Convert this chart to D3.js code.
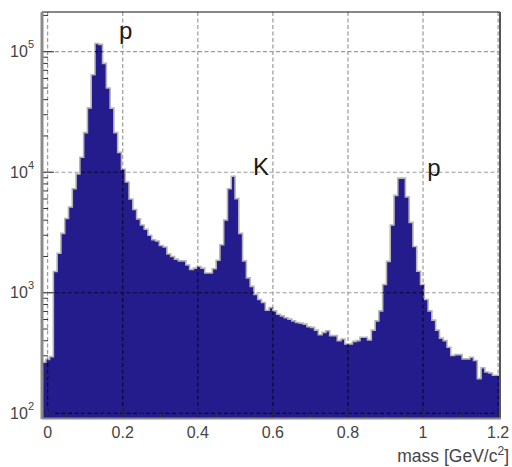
<!DOCTYPE html>
<html>
<head>
<meta charset="utf-8">
<script src="https://cdn.jsdelivr.net/npm/d3@7"></script>
<style>
  body { margin: 0; background: #fff; }
  svg { display: block; }
  text { font-family: "Liberation Sans", Arial, Helvetica, sans-serif; }
</style>
</head>
<body>
<div id="chart"></div>
<script>
// histogram: 121 bins between xRange[0] and xRange[1]
var xRange = [-0.015, 1.205];
var yRange = [91.4, 213500];
var counts = [
  265, 280, 295, 1500, 2130, 3110, 4130, 5150, 7290, 9680,
  13300, 21300, 34200, 64300, 117000, 115000, 80000, 50000, 34000, 21300,
  14600, 10600, 8300, 6000, 4900, 4100, 3650, 3360, 3000, 2750,
  2690, 2470, 2400, 2100, 2000, 1900, 1840, 1840, 1700, 1560,
  1600, 1650, 1600, 1460, 1460, 1580, 1860, 2500, 4010, 7300,
  9270, 6040, 3110, 1840, 1330, 1130, 970, 880, 830, 716,
  754, 707, 663, 643, 620, 604, 585, 567, 560, 549,
  522, 516, 490, 449, 469, 484, 441, 441, 401, 413,
  376, 376, 395, 401, 427, 427, 406, 490, 585, 707,
  1170, 1820, 3650, 6430, 8930, 8930, 6240, 3840, 2420, 1510,
  1170, 880, 707, 593, 490, 420, 401, 353, 302, 307,
  307, 283, 283, 292, 274, 194, 239, 220, 216, 207,
  207
];
var xTicks = [0, 0.2, 0.4, 0.6, 0.8, 1, 1.2];
var xTickLabels = ["0", "0.2", "0.4", "0.6", "0.8", "1", "1.2"];
var yTicks = [1e2, 1e3, 1e4, 1e5];
var yTickExp = ["2", "3", "4", "5"];
var peakNames = ["p", "K", "p"];
var peakX = [0.19, 0.547, 1.011];
var peakY = [127000, 9500, 9300];

var W = 512, H = 467;
var FRAME = {left: 42, right: 500, top: 12, bottom: 418};
var FILL = "#241b8c";
var GRID_DASH = "4,2.5";

var svg = d3.select("#chart").append("svg")
  .attr("width", W).attr("height", H);

var x = d3.scaleLinear().domain(xRange).range([FRAME.left, FRAME.right]);
var y = d3.scaleLog().domain(yRange).range([FRAME.bottom, FRAME.top]);

var binW = (xRange[1] - xRange[0]) / counts.length;

// step outline points
var pts = [];
counts.forEach(function(c, i) {
  var lo = xRange[0] + i * binW;
  pts.push([lo, c]);
  pts.push([lo + binW, c]);
});

var area = d3.area()
  .x(function(d) { return x(d[0]); })
  .y0(FRAME.bottom)
  .y1(function(d) { return y(d[1]); });
var line = d3.line()
  .x(function(d) { return x(d[0]); })
  .y(function(d) { return y(d[1]); });

// grid, drawn twice: grey on white, dark on the fill
function drawGrid(g, colour) {
  g.selectAll("line.gx").data(xTicks).enter().append("line")
    .attr("x1", function(d) { return x(d); })
    .attr("x2", function(d) { return x(d); })
    .attr("y1", FRAME.top).attr("y2", FRAME.bottom)
    .attr("stroke", colour).attr("stroke-width", 1.2)
    .attr("stroke-dasharray", GRID_DASH);
  g.selectAll("line.gy").data(yTicks).enter().append("line")
    .attr("x1", FRAME.left).attr("x2", FRAME.right)
    .attr("y1", function(d) { return y(d); })
    .attr("y2", function(d) { return y(d); })
    .attr("stroke", colour).attr("stroke-width", 1.2)
    .attr("stroke-dasharray", GRID_DASH);
}
drawGrid(svg.append("g"), "#9a9a9a");

svg.append("path").attr("d", area(pts)).attr("fill", FILL);
svg.append("path").attr("d", line(pts))
  .attr("fill", "none").attr("stroke", "#b4b4b4").attr("stroke-width", 1.6);

svg.append("clipPath").attr("id", "histClip")
  .append("path").attr("d", area(pts));
drawGrid(svg.append("g").attr("clip-path", "url(#histClip)"), "#0a0a30");

// ticks
var tk = svg.append("g").attr("stroke", "#333").attr("stroke-width", 1);
var xMinor = d3.range(0, 1.2001, 0.05);
tk.selectAll("line.xt").data(xMinor).enter().append("line")
  .attr("x1", function(d) { return x(d); })
  .attr("x2", function(d) { return x(d); })
  .attr("y1", FRAME.bottom)
  .attr("y2", function(d, i) { return FRAME.bottom - (i % 4 === 0 ? 9 : 5); });
var yMinor = [];
yTicks.forEach(function(dec) {
  for (var m = 1; m <= 9; m++) {
    if (dec * m <= yRange[1]) yMinor.push({v: dec * m, major: m === 1});
  }
});
tk.selectAll("line.yt").data(yMinor).enter().append("line")
  .attr("x1", FRAME.left)
  .attr("x2", function(d) { return FRAME.left + (d.major ? 12 : 6); })
  .attr("y1", function(d) { return y(d.v); })
  .attr("y2", function(d) { return y(d.v); });

// frame
svg.append("line").attr("x1", FRAME.left).attr("x2", FRAME.right)
  .attr("y1", FRAME.top).attr("y2", FRAME.top)
  .attr("stroke", "#111").attr("stroke-width", 1);
svg.append("line").attr("x1", FRAME.right).attr("x2", FRAME.right)
  .attr("y1", FRAME.top).attr("y2", FRAME.bottom)
  .attr("stroke", "#555").attr("stroke-width", 2);
svg.append("line").attr("x1", FRAME.left).attr("x2", FRAME.left)
  .attr("y1", FRAME.top).attr("y2", FRAME.bottom + 1)
  .attr("stroke", "#8a8a8a").attr("stroke-width", 3);
svg.append("line").attr("x1", FRAME.left).attr("x2", FRAME.right + 1)
  .attr("y1", FRAME.bottom + 0.5).attr("y2", FRAME.bottom + 0.5)
  .attr("stroke", "#8a8a8a").attr("stroke-width", 2);

// x tick labels
svg.selectAll("text.xl").data(xTicks).enter().append("text")
  .attr("x", function(d) { return x(d); })
  .attr("y", 438)
  .attr("text-anchor", "middle")
  .attr("font-size", 16)
  .attr("fill", "#444")
  .text(function(d, i) { return xTickLabels[i]; });

// y tick labels 10^n
var yl = svg.selectAll("text.yl").data(yTicks).enter().append("text")
  .attr("x", FRAME.left - 8)
  .attr("y", function(d) { return y(d) + 5.5; })
  .attr("text-anchor", "end")
  .attr("font-size", 16)
  .attr("fill", "#444");
yl.append("tspan").text("10");
yl.append("tspan").attr("dy", -9).attr("font-size", 11)
  .text(function(d, i) { return yTickExp[i]; });

// axis title
var title = svg.append("text")
  .attr("x", 509).attr("y", 462)
  .attr("text-anchor", "end")
  .attr("font-size", 17.5)
  .attr("fill", "#444");
title.append("tspan").text("mass [GeV/c");
title.append("tspan").attr("dy", -7).attr("font-size", 12).text("2");
title.append("tspan").attr("dy", 7).text("]");

// peak labels
svg.selectAll("text.pk").data(peakNames).enter().append("text")
  .attr("x", function(d, i) { return x(peakX[i]); })
  .attr("y", function(d, i) { return y(peakY[i]); })
  .attr("font-size", 24)
  .attr("fill", "#1a1a1a")
  .text(function(d) { return d; });
</script>
</body>
</html>
